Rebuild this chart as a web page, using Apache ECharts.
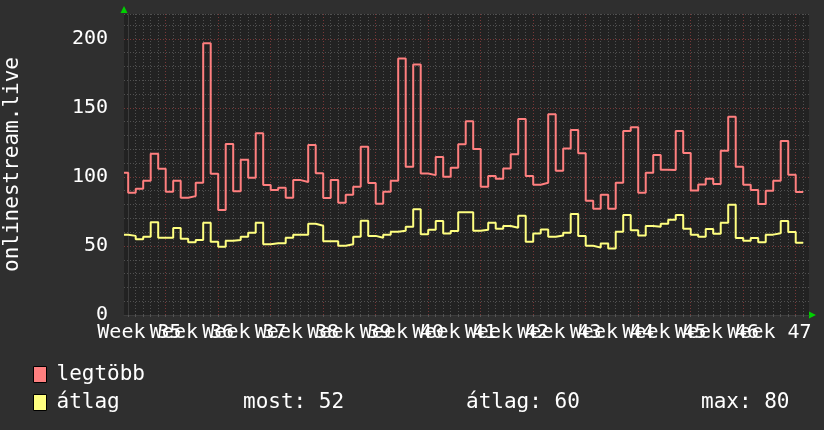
<!DOCTYPE html>
<html><head><meta charset="utf-8">
<script src="https://cdn.jsdelivr.net/npm/echarts@6/dist/echarts.min.js"></script>
<style>html,body{margin:0;padding:0;background:#2f2f2f}#c{width:824px;height:430px}</style>
</head><body><div id="c"></div>
<script>
// ---- data (one value per day; first entry is a partial day) ----
const weekLabels = ['Week 35','Week 36','Week 37','Week 38','Week 39','Week 40','Week 41','Week 42','Week 43','Week 44','Week 45','Week 46','Week 47'];
const seriesNames = ['legtöbb', 'átlag'];
const legtobb = [
  103, 88.5, 91.4, 97.2, 116.7, 105.9, 89.3, 97.2, 84.9, 86.1,
  95.8, 196.9, 102.3, 76.0, 123.9, 89.7, 112.4, 99.4, 131.7, 94.1,
  90.5, 92.1, 84.9, 97.7, 96.3, 123.2, 102.7, 84.7, 97.7, 81.3,
  87.1, 92.9, 121.8, 95.6, 80.6, 89.3, 97.2, 185.8, 107.3, 181.5,
  102.5, 101.3, 114.5, 100.1, 106.6, 123.7, 140.3, 120.3, 92.9, 100.6,
  98.7, 106.1, 116.5, 142.0, 100.6, 94.4, 95.8, 145.4, 104.4, 120.5,
  134.0, 117.2, 82.8, 77.0, 87.1, 77.0, 95.8, 133.3, 136.0, 88.5,
  103.0, 115.8, 105.2, 105.0, 133.3, 117.4, 90.2, 94.6, 98.7, 94.8,
  118.9, 143.5, 107.3, 94.3, 90.5, 80.4, 90.0, 97.2, 126.1, 101.5,
  89.0
];
const atlag = [
  58.2, 57.3, 54.8, 56.7, 67.1, 56.0, 56.0, 63.0, 55.3, 52.7,
  54.3, 66.9, 53.1, 49.5, 53.8, 54.3, 56.7, 59.6, 66.9, 51.2,
  51.9, 51.9, 56.0, 58.2, 58.2, 66.1, 64.7, 53.4, 53.4, 50.2,
  51.2, 56.7, 68.3, 57.3, 56.0, 58.2, 60.3, 61.1, 63.9, 76.5,
  58.5, 61.8, 68.1, 59.1, 60.8, 74.5, 74.5, 61.1, 61.8, 66.9,
  62.5, 64.4, 63.2, 71.9, 53.1, 59.0, 62.0, 56.7, 57.5, 59.6,
  73.1, 57.3, 50.2, 48.8, 51.7, 48.1, 60.3, 72.4, 61.3, 57.5,
  64.4, 63.9, 66.1, 69.0, 72.4, 62.5, 58.2, 56.7, 62.2, 58.9,
  66.9, 79.9, 55.8, 53.8, 55.8, 52.7, 58.2, 59.2, 68.1, 60.1,
  52.4
];
const legendStats = ['most: 52', 'átlag: 60', 'max: 80'];
const yAxisTitle = 'onlinestream.live';

// ---- build ----
const X_MIN = -0.56, X_MAX = 90.77;   // time in days; day boundaries at integers
function toSteps(vals) {
  const pts = vals.map((v, i) => [i === 0 ? X_MIN : i - 1, v]);
  pts.push([vals.length - 1, vals[vals.length - 1]]);
  return pts;
}
const FONT = 'DejaVu Sans Mono';
const GRAY = '#505050', RED = '#783838';
const TOP = 14, BOTTOM = 115;

const chart = echarts.init(document.getElementById('c'), null, {renderer: 'canvas'});
chart.setOption({
  animation: false,
  backgroundColor: '#2f2f2f',
  grid: [
    {left: 124, right: 15, top: TOP, bottom: BOTTOM, show: true, backgroundColor: '#222222', borderWidth: 0, containLabel: false, outerBoundsMode: 'none'},
    {left: 128.2, width: 675, top: TOP, bottom: BOTTOM, containLabel: false, outerBoundsMode: 'none'},
    {left: 113.2, width: 682.5, top: TOP, bottom: BOTTOM, containLabel: false, outerBoundsMode: 'none'}
  ],
  xAxis: [
    {gridIndex: 0, type: 'value', min: X_MIN, max: X_MAX,
     axisLine: {show: true, lineStyle: {color: '#3c3c3c'}}, axisTick: {show: false},
     axisLabel: {show: false}, splitLine: {show: false}},
    {gridIndex: 1, type: 'value', min: 0, max: 90, interval: 1,
     axisLine: {show: false}, axisLabel: {show: false},
     axisTick: {show: true, inside: false, length: 2, lineStyle: {color: '#555'}},
     splitLine: {show: true, lineStyle: {type: [1, 2], width: 1,
       color: [GRAY, GRAY, GRAY, GRAY, GRAY, RED, GRAY]}}},
    {gridIndex: 2, type: 'category', data: weekLabels, boundaryGap: true,
     axisLine: {show: false}, axisTick: {show: false}, splitLine: {show: false},
     axisLabel: {interval: 0, hideOverlap: false, margin: 8, color: '#ffffff',
       fontFamily: FONT, fontSize: 20}}
  ],
  yAxis: [
    {gridIndex: 0, type: 'value', min: 0, max: 218, interval: 10,
     name: yAxisTitle, nameLocation: 'middle', nameRotate: 90, nameGap: 101,
     nameTextStyle: {color: '#ffffff', fontFamily: FONT, fontSize: 21},
     axisLine: {show: true, lineStyle: {color: '#3c3c3c'}}, axisTick: {show: false},
     axisLabel: {margin: 16, color: '#ffffff', fontFamily: FONT, fontSize: 20,
       formatter: v => (v % 50 === 0 && v <= 200) ? String(v) : ''},
     splitLine: {show: true, lineStyle: {type: [1, 2], width: 1,
       color: [RED, GRAY, GRAY, GRAY, GRAY]}}},
    {gridIndex: 1, type: 'value', min: 0, max: 218, show: false},
    {gridIndex: 2, type: 'value', min: 0, max: 218, show: false}
  ],
  legend: {
    orient: 'vertical', left: 33, top: 364, padding: 0, itemWidth: 13, itemHeight: 16, itemGap: 7,
    icon: 'rect', selectedMode: false,
    itemStyle: {borderColor: '#000', borderWidth: 1},
    textStyle: {color: '#ffffff', fontFamily: FONT, fontSize: 21, padding: [0, 0, 0, 5]},
    data: seriesNames
  },
  series: [
    {name: seriesNames[0], type: 'line', step: 'end', xAxisIndex: 0, yAxisIndex: 0,
     data: toSteps(legtobb), showSymbol: false, color: '#ff8080',
     lineStyle: {width: 2, color: '#ff7f7f'}},
    {name: seriesNames[1], type: 'line', step: 'end', xAxisIndex: 0, yAxisIndex: 0,
     data: toSteps(atlag), showSymbol: false, color: '#ffff80',
     lineStyle: {width: 2, color: '#ffff80'}}
  ],
  graphic: [
    {type: 'polygon', shape: {points: [[120.5, 13], [127.5, 13], [124, 6]]}, style: {fill: '#00d000'}},
    {type: 'polygon', shape: {points: [[809, 311.5], [809, 318.5], [816, 315]]}, style: {fill: '#00d000'}},
    {type: 'text', left: 243, top: 392, style: {text: legendStats[0], fill: '#ffffff', font: '21px "' + FONT + '"'}},
    {type: 'text', left: 466, top: 392, style: {text: legendStats[1], fill: '#ffffff', font: '21px "' + FONT + '"'}},
    {type: 'text', left: 701, top: 392, style: {text: legendStats[2], fill: '#ffffff', font: '21px "' + FONT + '"'}}
  ]
});
</script></body></html>
